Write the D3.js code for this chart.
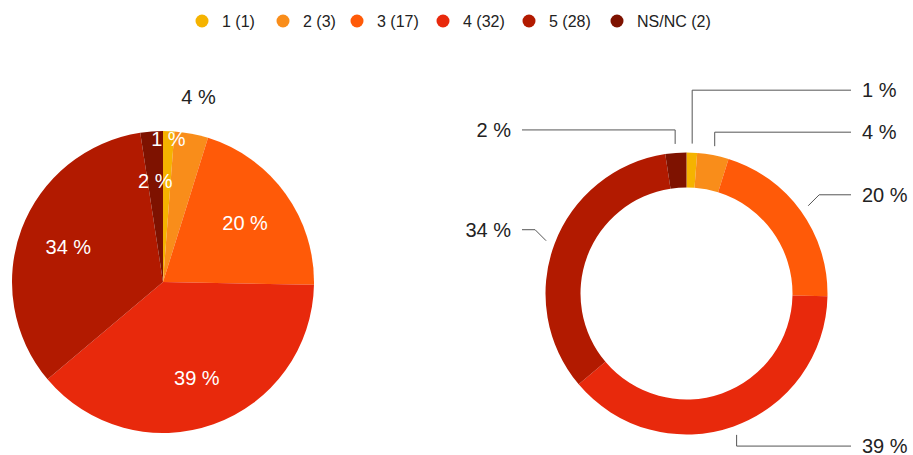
<!DOCTYPE html>
<html lang="en">
<head>
<meta charset="UTF-8">
<title>Pie and donut</title>
<script src="https://d3js.org/d3.v7.min.js"></script>
<style>
  body { margin: 0; background: #fff; }
  svg text { font-family: "Liberation Sans", Arial, sans-serif; }
</style>
</head>
<body>
<svg id="chart" width="913" height="455"></svg>
<script>
// data
var categories = ["1", "2", "3", "4", "5", "NS/NC"];
var counts = [1, 3, 17, 32, 28, 2];
var colors = ["#f5b300", "#f98d1a", "#ff5a08", "#e8290c", "#b21a00", "#7e1200"];

var total = d3.sum(counts);
var data = categories.map(function(c, i) {
  return { name: c, value: counts[i], color: colors[i], pct: Math.round(counts[i] / total * 100) };
});

var svg = d3.select("#chart");

// legend
var legendX = [202, 283, 357, 443, 529, 617];
var legend = svg.append("g").selectAll("g")
  .data(data).enter().append("g")
  .attr("transform", function(d, i) { return "translate(" + legendX[i] + ",21)"; });
legend.append("circle").attr("r", 6.5).attr("fill", d => d.color);
legend.append("text")
  .attr("x", 20).attr("dy", "0.36em")
  .style("font-size", "16px").attr("fill", "#222")
  .text(d => d.name + " (" + d.value + ")");

var pie = d3.pie().sort(null).value(d => d.value);
var arcs = pie(data);

// left: full pie
var p1 = { cx: 163, cy: 282, r: 151 };
var g1 = svg.append("g").attr("transform", "translate(" + p1.cx + "," + p1.cy + ")");
var arc1 = d3.arc().innerRadius(0).outerRadius(p1.r);
g1.selectAll("path").data(arcs).enter().append("path")
  .attr("d", arc1).attr("fill", d => d.data.color);

// label radius factor for each slice (small slices pushed out)
var labelR = [0.95, 1.25, 0.67, 0.67, 0.67, 0.67];
g1.selectAll("text").data(arcs).enter().append("text")
  .attr("transform", function(d, i) {
    var a = (d.startAngle + d.endAngle) / 2, rr = p1.r * labelR[i];
    return "translate(" + (Math.sin(a) * rr) + "," + (-Math.cos(a) * rr) + ")";
  })
  .attr("text-anchor", "middle").attr("dy", "0.36em")
  .style("font-size", "20px")
  .attr("fill", (d, i) => labelR[i] > 1 ? "#222" : "#fff")
  .text(d => d.data.pct + " %");

// right: donut with leader lines
var p2 = { cx: 686.5, cy: 293.5, r: 141, ir: 106 };
var g2 = svg.append("g").attr("transform", "translate(" + p2.cx + "," + p2.cy + ")");
var arc2 = d3.arc().innerRadius(p2.ir).outerRadius(p2.r);
g2.selectAll("path").data(arcs).enter().append("path")
  .attr("d", arc2).attr("fill", d => d.data.color);

// leader layout
var startR = 150, lineEnd = 164.5, textX = 175.5, minGap = 42;
var labels = arcs.map(function(d) {
  var a = (d.startAngle + d.endAngle) / 2;
  var sx = Math.sin(a) * startR, sy = -Math.cos(a) * startR;
  var side = sx >= 0 ? 1 : -1;
  var diag = Math.abs(Math.sin(a)) > 0.5;
  var shift = diag ? 11 : 14;
  return { d: d, sx: sx, sy: sy, side: side, diag: diag, y: sy + (sy < 0 ? -shift : shift * 0.8) };
});
// resolve collisions per side, pushing upward from the bottom
[1, -1].forEach(function(side) {
  var s = labels.filter(l => l.side === side).sort((a, b) => b.y - a.y);
  for (var i = 1; i < s.length; i++) {
    if (s[i - 1].y - s[i].y < minGap && s[i].y < 0) s[i].y = Math.min(s[i].y, s[i - 1].y - minGap);
  }
});

labels.forEach(function(l) {
  var dy = l.y - l.sy;
  var kx = l.diag ? l.sx + l.side * Math.abs(dy) : l.sx;
  g2.append("path")
    .attr("d", "M" + l.sx + "," + l.sy + "L" + kx + "," + l.y + "L" + (l.side * lineEnd) + "," + l.y)
    .attr("fill", "none").attr("stroke", "#555").attr("stroke-width", 1);
  g2.append("text")
    .attr("x", l.side * textX).attr("y", l.y).attr("dy", "0.36em")
    .attr("text-anchor", l.side > 0 ? "start" : "end")
    .style("font-size", "20px").attr("fill", "#222")
    .text(l.d.data.pct + " %");
});
</script>
</body>
</html>
